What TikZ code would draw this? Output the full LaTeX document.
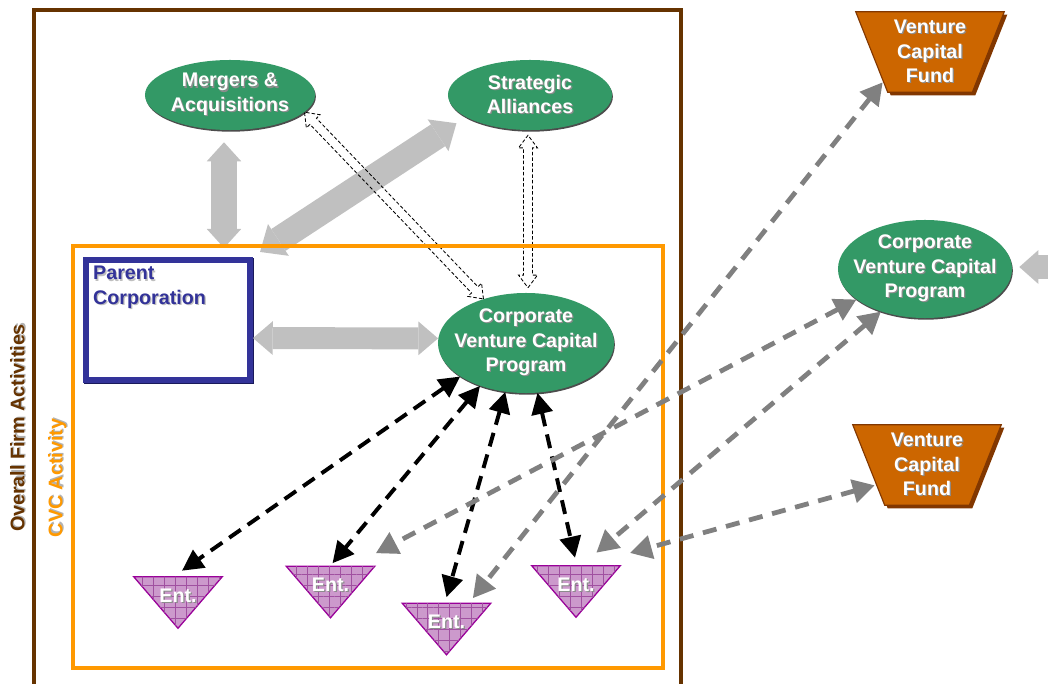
\documentclass[tikz,border=0pt]{standalone}
\usepackage{fontspec}
\setmainfont{Liberation Sans}
\usetikzlibrary{shapes, shapes.arrows, arrows.meta, calc, patterns.meta, backgrounds}
\definecolor{cvc_green}{RGB}{51, 153, 102}
\definecolor{fund_orange}{RGB}{204, 102, 0}
\definecolor{fund_dark}{RGB}{130, 55, 0}
\definecolor{firm_brown}{RGB}{102, 51, 0}
\definecolor{cvc_orange}{RGB}{255, 153, 0}
\definecolor{parent_navy}{RGB}{51, 51, 153}
\definecolor{parent_dark}{RGB}{25, 25, 90}
\definecolor{ent_fill}{RGB}{204, 153, 204}
\definecolor{ent_line}{RGB}{153, 0, 153}
\definecolor{ent_grid}{RGB}{160, 80, 160}
\definecolor{block_grey}{RGB}{192, 192, 192}
\definecolor{dash_grey}{RGB}{128, 128, 128}
\newcommand{\shd}[2][black!45]{\leavevmode\rlap{\kern0.9pt\raisebox{-0.9pt}{\textcolor{#1}{#2}}}#2}
\tikzstyle{bigtext}=[font=\bfseries\fontsize{14}{17.4}\selectfont, text=white, align=center]
\tikzstyle{greenell}=[ellipse, fill=cvc_green, inner sep=0pt,
  preaction={fill=black!70, transform canvas={shift={(0.6pt,-1.2pt)}}}]
\tikzstyle{fund}=[rectangle, inner sep=0pt, minimum width=3.7cm, minimum height=2cm, bigtext]
\tikzstyle{fundshape}=[draw=fund_dark, line width=0.8pt, fill=fund_orange]
\tikzstyle{ent}=[rectangle, inner sep=0pt, minimum width=2.2cm, minimum height=1.275cm]
\tikzstyle{entshape}=[draw=ent_line, line width=0.9pt, fill=ent_fill,
  postaction={pattern={Hatch[angle=0, distance=7.8pt, line width=0.4pt]}, pattern color=ent_grid}]
\tikzstyle{parentbox}=[rectangle, draw=parent_navy, line width=4.3pt, fill=white, inner sep=0pt,
  minimum width=4.1cm, minimum height=3cm,
  preaction={draw=parent_dark, transform canvas={shift={(1pt,-1pt)}}}]
\tikzstyle{parenttext}=[font=\bfseries\fontsize{14}{17.4}\selectfont, text=parent_navy, align=left, inner sep=0pt]
\tikzstyle{blockv}=[draw=block_grey, line width=17.8pt,
  {Triangle[length=13.5pt, width=24.5pt, line width=0pt]}-{Triangle[length=13.5pt, width=24.5pt, line width=0pt]}]
\tikzstyle{blockd}=[draw=block_grey, line width=18.5pt,
  {Triangle[length=15.6pt, width=27pt, line width=0pt]}-{Triangle[length=15.6pt, width=27pt, line width=0pt]}]
\tikzstyle{blockh}=[draw=block_grey, line width=15.6pt,
  {Triangle[length=14pt, width=24pt, line width=0pt]}-{Triangle[length=14pt, width=24pt, line width=0pt]}]
\tikzstyle{blockr}=[draw=block_grey, line width=16.4pt, -{Triangle[length=13.5pt, width=24pt, line width=0pt]}]
\tikzstyle{hollow}=[double arrow, draw=black, line width=0.6pt, dash pattern=on 2.5pt off 1.5pt,
  inner xsep=0pt, inner ysep=2.85pt, double arrow head extend=3.6pt, double arrow tip angle=74]
\tikzstyle{blkdash}=[draw=black, line width=2.8pt, dash pattern=on 10pt off 6pt,
  {Triangle[length=15pt, width=15pt]}-{Triangle[length=15pt, width=15pt]}]
\tikzstyle{greydash}=[draw=dash_grey, line width=3.4pt, dash pattern=on 10pt off 7pt,
  {Triangle[length=15.6pt, width=16.5pt]}-{Triangle[length=15.6pt, width=16.5pt]}]

\begin{document}
\begin{tikzpicture}[x=0.025cm, y=-0.025cm]
    \useasboundingbox (0,0) rectangle (1048,684);
    % ellipses
    \node [greenell, minimum width=4.25cm, minimum height=1.75cm,
      label={[bigtext]center:{\shd{Mergers \&}\\\shd{Acquisitions}}}] (ma) at (230,95) {};
    \node [greenell, minimum width=4.1cm, minimum height=1.75cm,
      label={[bigtext]center:{\shd{Strategic}\\\shd{Alliances}}}] (sa) at (530,95) {};
    \node [greenell, minimum width=4.4cm, minimum height=2.5cm,
      label={[bigtext]center:{\shd{Corporate}\\\shd{Venture Capital}\\\shd{Program}}}] (cvc) at (526,343) {};
    \node [greenell, minimum width=4.35cm, minimum height=2.45cm,
      label={[bigtext]center:{\shd{Corporate}\\\shd{Venture Capital}\\\shd{Program}}}] (rcvc) at (925,269) {};
    % funds
    \node [fund] (vc1) at (930,52) {\shd{Venture}\\\shd{Capital}\\\shd{Fund}};
    \node [fund] (vc2) at (927,465) {\shd{Venture}\\\shd{Capital}\\\shd{Fund}};
    % parent
    \node [parentbox, label={[parenttext, anchor=north west, xshift=7.1pt, yshift=-6.4pt]north west:{\shd[black!25]{Parent}\\\shd[black!25]{Corporation}}}] (parent) at (168,320) {};
    % entrepreneurial firms
    \node [ent, label={[bigtext, yshift=4.6pt]center:\shd{Ent.}}] (e1) at (178,602.5) {};
    \node [ent, label={[bigtext, yshift=4.6pt]center:\shd{Ent.}}] (e2) at (330.5,592) {};
    \node [ent, label={[bigtext, yshift=4.6pt]center:\shd{Ent.}}] (e3) at (446.5,629) {};
    \node [ent, label={[bigtext, yshift=4.6pt]center:\shd{Ent.}}] (e4) at (576,591.5) {};
    \begin{scope}[on background layer]
        \foreach \f in {vc1,vc2} {
            \fill [fund_dark] ($(\f.north west)+(3,3)$) -- ($(\f.north east)+(3,3)$) -- ($(\f.south east)+(-29,3)$) -- ($(\f.south west)+(35,3)$) -- cycle;
            \draw [fundshape] (\f.north west) -- (\f.north east) -- ($(\f.south east)+(-32,0)$) -- ($(\f.south west)+(32,0)$) -- cycle;
        }
        \foreach \ent in {e1,e2,e3,e4}
            \draw [entshape] (\ent.north west) -- (\ent.north east) -- (\ent.south) -- cycle;
    \end{scope}
    % grey block arrows
    \draw [blockv] ($(ma.south)+(-6,12)$) to ($(ma.south |- parent.north)+(-6,-9)$);
    \draw [blockd, shorten >=8pt] ($(parent.north east)+(7,-5)$) to (sa.199);
    \draw [blockh] (parent.-12) to (cvc.177);
    \coordinate (offright) at (1080,267);
    \draw [blockr] (offright) to ($(rcvc.east)+(7,-2)$);
    % hollow dashed arrows
    \path let \p1=(ma.347), \p2=(cvc.134), \n1={atan2(\y2-\y1,\x2-\x1)}, \n2={veclen(\x2-\x1,\y2-\y1)} in
        node [hollow, rotate=\n1, minimum height=\n2] (h1) at ($(\p1)!0.5!(\p2)$) {};
    \path let \p1=($(sa.south)+(-2,5)$), \p2=($(cvc.north)+(2,-5)$), \n1={atan2(\y2-\y1,\x2-\x1)}, \n2={veclen(\x2-\x1,\y2-\y1)} in
        node [hollow, rotate=\n1, minimum height=\n2] (h2) at ($(\p1)!0.5!(\p2)$) {};
    % frames
    \draw [firm_brown, line width=2.2pt] (34,700) -- (34,10) -- (681,10) -- (681,700);
    \draw [cvc_orange, line width=2.2pt] (73,246) rectangle (663,668);
    \node [font=\bfseries\fontsize{14}{17.4}\selectfont, text=firm_brown, rotate=90] (firm) at (18,428) {\shd[black!30]{Overall Firm Activities}};
    \node [font=\bfseries\fontsize{14}{17.4}\selectfont, text=cvc_orange, rotate=90] (cvcact) at (58,478) {\shd[black!30]{CVC Activity}};
    % dashed links
    \draw [blkdash] (cvc.207) to ($(e1.north)+(4,-6)$);
    \draw [blkdash] (cvc.223) to ($(e2.north)+(2,-3)$);
    \draw [blkdash] (cvc.247) to ($(e3.north)+(0,-6)$);
    \draw [blkdash] (cvc.283) to ($(e4.north)+(-1,-8)$);
    \draw [greydash] ($(vc1.south west)+(27,-10)$) to ($(e3.north east)+(-18,-5)$);
    \draw [greydash] (rcvc.204) to ($(e2.north east)+(1,-13)$);
    \draw [greydash] (rcvc.224) to ($(e4.north east)+(-24,-13)$);
    \coordinate (loose) at (630,553);
    \draw [greydash] ($(vc2.south west)+(22,-20)$) to (loose);
\end{tikzpicture}
\end{document}
